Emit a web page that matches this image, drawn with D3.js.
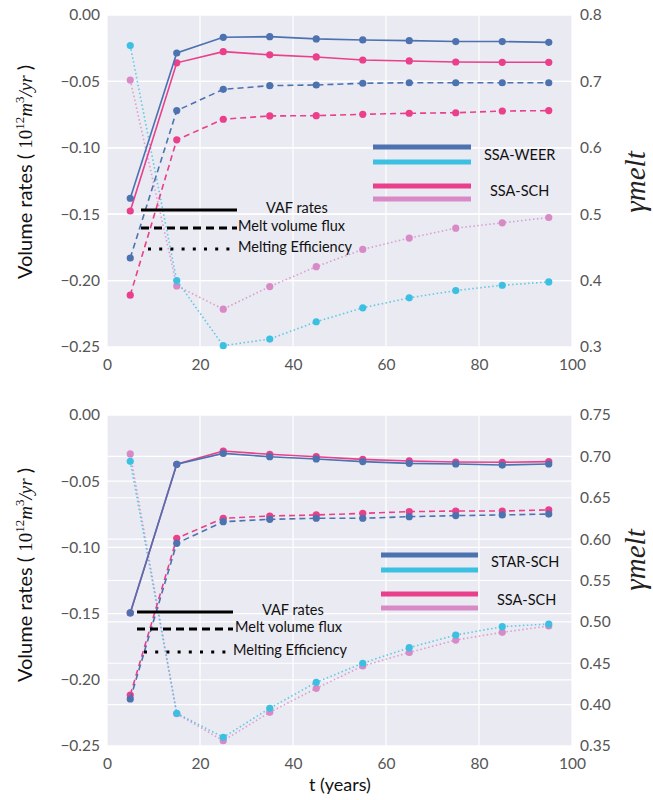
<!DOCTYPE html>
<html><head><meta charset="utf-8">
<script src="https://cdn.jsdelivr.net/npm/d3@7"></script>
<style>body{margin:0;background:#fff}svg{display:block}</style>
</head><body>
<svg id="c" width="653" height="800"></svg>
<script>
const years = [5,15,25,35,45,55,65,75,85,95];
const xTicks = [0,20,40,60,80,100];
const leftTicks = [0,-0.05,-0.10,-0.15,-0.20,-0.25];
const topRightTicks = [0.8,0.7,0.6,0.5,0.4,0.3];
const botRightTicks = [0.75,0.70,0.65,0.60,0.55,0.50,0.45,0.40,0.35];

// Top panel
const topWeerVaf  = [-0.138,-0.0286,-0.0168,-0.0163,-0.018,-0.0188,-0.0193,-0.020,-0.020,-0.0206];
const topSchVaf   = [-0.1476,-0.036,-0.0276,-0.030,-0.0316,-0.0339,-0.0346,-0.0354,-0.0356,-0.0356];
const topWeerMelt = [-0.183,-0.072,-0.056,-0.0532,-0.0527,-0.0514,-0.051,-0.051,-0.051,-0.051];
const topSchMelt  = [-0.211,-0.094,-0.0785,-0.076,-0.0758,-0.0748,-0.074,-0.0736,-0.0723,-0.072];
const topWeerEff  = [0.754,0.400,0.302,0.312,0.338,0.359,0.374,0.385,0.393,0.398];
const topSchEff   = [0.702,0.392,0.357,0.391,0.421,0.447,0.464,0.479,0.487,0.495];

// Bottom panel
const botStarVaf  = [-0.1495,-0.0372,-0.029,-0.0315,-0.0332,-0.0352,-0.0365,-0.037,-0.0378,-0.037];
const botSchVaf   = [-0.1495,-0.0372,-0.0272,-0.0297,-0.0315,-0.0335,-0.0347,-0.0355,-0.0357,-0.0352];
const botStarMelt = [-0.2145,-0.0969,-0.0806,-0.0788,-0.078,-0.078,-0.0768,-0.076,-0.0755,-0.0748];
const botSchMelt  = [-0.2115,-0.0931,-0.078,-0.0763,-0.0755,-0.0743,-0.073,-0.0725,-0.0725,-0.0717];
const botStarEff  = [0.694,0.3895,0.3605,0.3956,0.427,0.45,0.4688,0.4841,0.4942,0.4974];
const botSchEff   = [0.703,0.389,0.3564,0.3907,0.4197,0.4467,0.463,0.478,0.4874,0.495];

const C = {blue:"#4c72b0", cyan:"#3cc0e2", pink:"#ea3f8b", lpink:"#d88ac6"};
const FONT = "Lato, 'Open Sans', sans-serif";
const MATH = "'Liberation Serif', 'DejaVu Serif', serif";
const svg = d3.select("#c");

function panel(o){
  const g = svg.append("g");
  const x = d3.scaleLinear().domain([0,100]).range([107,572]);
  const yL = d3.scaleLinear().domain([-0.25,0]).range([o.y1,o.y0]);
  const yR = d3.scaleLinear().domain(o.rDomain).range([o.y1,o.y0]);
  g.append("rect").attr("x",107).attr("y",o.y0).attr("width",465).attr("height",o.y1-o.y0).attr("fill","#eaeaf2");
  // grids
  g.selectAll(".gx").data(xTicks).join("line").attr("x1",d=>x(d)).attr("x2",d=>x(d)).attr("y1",o.y0).attr("y2",o.y1).attr("stroke","#fff").attr("stroke-width",1.2);
  g.selectAll(".gl").data(leftTicks).join("line").attr("x1",107).attr("x2",572).attr("y1",d=>yL(d)).attr("y2",d=>yL(d)).attr("stroke","#fff").attr("stroke-width",1.2);
  g.selectAll(".gr").data(o.rTicks).join("line").attr("x1",107).attr("x2",572).attr("y1",d=>yR(d)).attr("y2",d=>yR(d)).attr("stroke","#fff").attr("stroke-width",1.2);
  // axes
  const ax = g.append("g").attr("transform",`translate(0,${o.y1})`).call(d3.axisBottom(x).tickValues(xTicks).tickSize(0).tickPadding(18).tickFormat(d3.format("d")));
  const al = g.append("g").attr("transform","translate(107,0)").call(d3.axisLeft(yL).tickValues(leftTicks).tickSize(0).tickPadding(7).tickFormat(d=>d3.format(".2f")(d).replace("-","\u2212")));
  const ar = g.append("g").attr("transform","translate(572,0)").call(d3.axisRight(yR).tickValues(o.rTicks).tickSize(0).tickPadding(8).tickFormat(d3.format(o.rFmt)));
  [ax,al,ar].forEach(a=>{a.select(".domain").remove();a.selectAll("text").attr("font-family",FONT).attr("font-size",15.5).attr("fill","#555");});
  ax.selectAll("text").attr("dy","0.32em");

  function series(vals, scale, color, dash, width, op){
    const pts = years.map((t,i)=>[x(t),scale(vals[i])]);
    g.append("path").attr("d",d3.line()(pts)).attr("fill","none").attr("stroke",color).attr("stroke-width",width).attr("stroke-dasharray",dash).attr("opacity",op);
    g.selectAll(null).data(pts).join("circle").attr("cx",d=>d[0]).attr("cy",d=>d[1]).attr("r",3.6).attr("fill",color);
  }
  o.series.forEach(s=>series(s[0], s[1]==="L"?yL:yR, s[2], s[3], s[4], s[5]));

  // y label left
  const lab = g.append("text").attr("transform",`translate(32,${o.lc}) rotate(-90)`).attr("text-anchor","middle").attr("font-family",FONT).attr("font-size",20).attr("fill","#111");
  lab.append("tspan").text("Volume rates ( ");
  lab.append("tspan").attr("font-family",MATH).attr("font-size",19).text("10");
  lab.append("tspan").attr("font-family",MATH).attr("font-size",13).attr("dy",-8).text("12");
  lab.append("tspan").attr("font-family",MATH).attr("font-style","italic").attr("font-size",19).attr("dy",8).text("m");
  lab.append("tspan").attr("font-family",MATH).attr("font-size",13).attr("dy",-8).text("3");
  lab.append("tspan").attr("font-family",MATH).attr("font-style","italic").attr("font-size",19).attr("dy",8).text("/yr");
  lab.append("tspan").text(" )");
  // right label
  g.append("text").attr("transform",`translate(645,${o.rc}) rotate(-90)`).attr("text-anchor","middle").attr("font-family",MATH).attr("font-style","italic").attr("font-size",29).attr("fill","#222").text("\u03B3melt");

  // black legend
  const bl = o.bl;
  g.append("line").attr("x1",bl.x0).attr("x2",bl.x1).attr("y1",bl.y[0]).attr("y2",bl.y[0]).attr("stroke","#000").attr("stroke-width",3);
  g.append("line").attr("x1",bl.x0).attr("x2",bl.x1).attr("y1",bl.y[1]).attr("y2",bl.y[1]).attr("stroke","#000").attr("stroke-width",3).attr("stroke-dasharray","8,5");
  g.append("line").attr("x1",bl.x0+7).attr("x2",bl.x1).attr("y1",bl.y[2]).attr("y2",bl.y[2]).attr("stroke","#000").attr("stroke-width",3).attr("stroke-dasharray","3,8.2");
  const lt = [["VAF rates",bl.tx[0],bl.y[0]-2],["Melt volume flux",bl.tx[1],bl.y[1]-2],["Melting Efficiency",bl.tx[2],bl.y[2]-2]];
  lt.forEach(t=>g.append("text").attr("x",t[1]).attr("y",t[2]).attr("dy","0.35em").attr("font-family",FONT).attr("font-size",14.5).attr("fill","#111").text(t[0]));
  // color legend
  const cl = o.cl;
  [[C.blue,cl.y[0]],[C.cyan,cl.y[1]],[C.pink,cl.y[2]],[C.lpink,cl.y[3]]].forEach(d=>g.append("line").attr("x1",cl.x0).attr("x2",cl.x1).attr("y1",d[1]).attr("y2",d[1]).attr("stroke",d[0]).attr("stroke-width",5));
  cl.labels.forEach(d=>g.append("text").attr("x",d[1]).attr("y",d[2]).attr("dy","0.35em").attr("font-family",FONT).attr("font-size",14.5).attr("fill","#111").text(d[0]));
}

panel({y0:15,y1:347,rDomain:[0.3,0.8],rTicks:topRightTicks,rFmt:".1f",lc:172,rc:182,
  series:[
    [topSchEff,"R",C.lpink,"1.5,2.5",1.6,0.8],
    [topWeerEff,"R",C.cyan,"1.5,2.5",1.6,0.8],
    [topSchMelt,"L",C.pink,"6,4",1.6,1],
    [topWeerMelt,"L",C.blue,"6,4",1.6,1],
    [topSchVaf,"L",C.pink,null,1.6,1],
    [topWeerVaf,"L",C.blue,null,1.6,1]],
  bl:{x0:141,x1:237,y:[210,228,249],tx:[266,238,238]},
  cl:{x0:373,x1:471,y:[147,162,186,199],labels:[["SSA-WEER",484,155],["SSA-SCH",490,191]]}
});
panel({y0:415,y1:746,rDomain:[0.35,0.75],rTicks:botRightTicks,rFmt:".2f",lc:575,rc:560,
  series:[
    [botSchEff,"R",C.lpink,"1.5,2.5",1.6,0.8],
    [botStarEff,"R",C.cyan,"1.5,2.5",1.6,0.8],
    [botSchMelt,"L",C.pink,"6,4",1.6,1],
    [botStarMelt,"L",C.blue,"6,4",1.6,1],
    [botSchVaf,"L",C.pink,null,1.6,1],
    [botStarVaf,"L",C.blue,null,1.6,1]],
  bl:{x0:137,x1:233,y:[612,629,652],tx:[262,235,233]},
  cl:{x0:381,x1:478,y:[555,570,594,608],labels:[["STAR-SCH",491,562],["SSA-SCH",497,600]]}
});
svg.append("text").attr("x",340).attr("y",785).attr("dy","0.35em").attr("text-anchor","middle").attr("font-family",FONT).attr("font-size",18).attr("fill","#111").text("t (years)");
</script>
</body></html>
